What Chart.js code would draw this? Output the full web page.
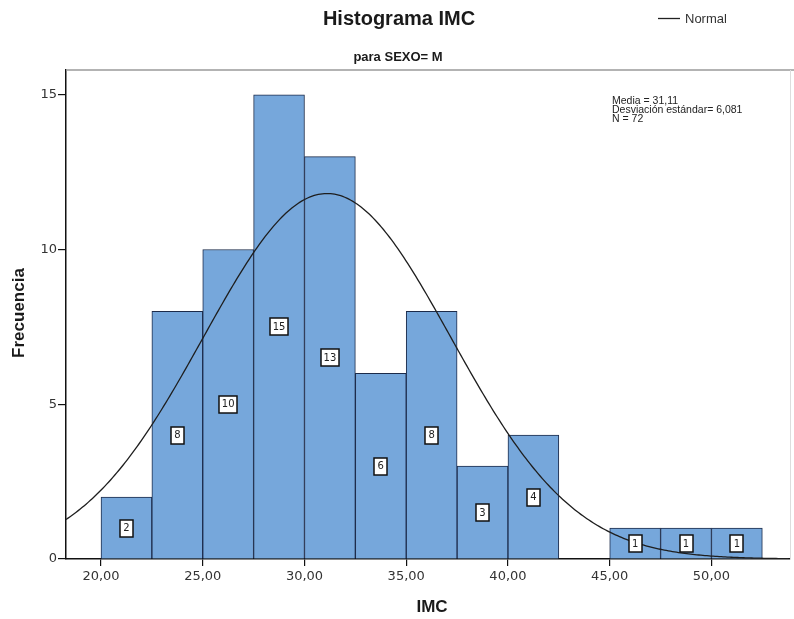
<!DOCTYPE html>
<html>
<head>
<meta charset="utf-8">
<script src="https://cdn.jsdelivr.net/npm/chart.js@4/dist/chart.umd.min.js"></script>
<style>
  html, body { margin: 0; padding: 0; background: #ffffff; }
  #wrap { width: 794px; height: 619px; position: relative; }
</style>
</head>
<body>
<div id="wrap"><canvas id="c" width="794" height="619"></canvas></div>
<script>
// Histogram bins (lower edge of each class, width 2.5) and frequencies
const binStarts = [20, 22.5, 25, 27.5, 30, 32.5, 35, 37.5, 40, 42.5, 45, 47.5, 50];
const counts    = [2, 8, 10, 15, 13, 6, 8, 3, 4, 0, 1, 1, 1];
const binWidth  = 2.5;

// Axis ticks
const xTicks = [20, 25, 30, 35, 40, 45, 50];
const yTicks = [0, 5, 10, 15];

// Summary statistics of IMC for SEXO = M
const mean = 31.11;
const stdDev = 6.081;
const nCases = 72;

const xMin = 18.28, xMax = 53.86;
const yMax = 15.8;

// Bars: one point per non-empty class, centred in its class
const barData = [];
binStarts.forEach((s, i) => {
  if (counts[i] > 0) barData.push({ x: s + binWidth / 2, y: counts[i] });
});

// Fitted normal curve scaled to frequency per class
const curveData = [];
const peak = nCases * binWidth / (stdDev * Math.sqrt(2 * Math.PI));
for (let x = xMin; x <= xMax + 1e-9; x += 0.1) {
  const z = (x - mean) / stdDev;
  curveData.push({ x: x, y: peak * Math.exp(-0.5 * z * z) });
}

const fmt = v => v.toFixed(2).replace('.', ',');

// Titles, legend, statistics box, frame and count labels
const decorations = {
  id: 'decorations',
  beforeDatasetsDraw(chart) {
    const { ctx, chartArea: a } = chart;
    ctx.save();
    ctx.strokeStyle = '#9a9a9a';
    ctx.lineWidth = 1.5;
    ctx.beginPath();
    ctx.moveTo(a.left, a.top);
    ctx.lineTo(794, a.top);
    ctx.stroke();
    ctx.strokeStyle = '#dddddd';
    ctx.lineWidth = 1;
    ctx.beginPath();
    ctx.moveTo(a.right + 0.5, a.top);
    ctx.lineTo(a.right + 0.5, a.bottom);
    ctx.stroke();
    ctx.restore();
  },
  afterDatasetsDraw(chart) {
    const { ctx } = chart;
    const meta = chart.getDatasetMeta(0);
    const ys = chart.scales.y;
    ctx.save();
    ctx.font = '10px "DejaVu Sans"';
    ctx.textAlign = 'center';
    ctx.textBaseline = 'middle';
    meta.data.forEach((el, i) => {
      const v = barData[i].y;
      const txt = String(v);
      const w = txt.length > 1 ? 18 : 13;
      const h = 17;
      const cx = el.x;
      const cy = ys.getPixelForValue(v / 2);
      ctx.fillStyle = '#ffffff';
      ctx.fillRect(Math.round(cx - w / 2), Math.round(cy - h / 2), w, h);
      ctx.strokeStyle = '#111111';
      ctx.lineWidth = 1.5;
      ctx.strokeRect(Math.round(cx - w / 2), Math.round(cy - h / 2), w, h);
      ctx.fillStyle = '#222222';
      ctx.fillText(txt, cx, cy + 0.5);
    });
    ctx.restore();
  },
  afterDraw(chart) {
    const { ctx } = chart;
    ctx.save();
    ctx.fillStyle = '#1a1a1a';
    ctx.textAlign = 'center';
    ctx.textBaseline = 'middle';
    ctx.font = 'bold 20px "Liberation Sans"';
    ctx.fillText('Histograma IMC', 399, 19);
    ctx.font = 'bold 13px "Liberation Sans"';
    ctx.fillText('para SEXO= M', 398, 57);

    // legend
    ctx.strokeStyle = '#222222';
    ctx.lineWidth = 1.3;
    ctx.beginPath();
    ctx.moveTo(658, 18.5);
    ctx.lineTo(680, 18.5);
    ctx.stroke();
    ctx.textAlign = 'left';
    ctx.font = '13px "Liberation Sans"';
    ctx.fillStyle = '#333333';
    ctx.fillText('Normal', 685, 19);

    // statistics
    ctx.font = '10.5px "Liberation Sans"';
    ctx.fillStyle = '#222222';
    ctx.fillText('Media = ' + mean.toFixed(2).replace('.', ','), 612, 101);
    ctx.fillText('Desviación estándar= ' + stdDev.toFixed(3).replace('.', ','), 612, 110);
    ctx.fillText('N = ' + nCases, 612, 119);

    // axis titles
    ctx.fillStyle = '#1a1a1a';
    ctx.textAlign = 'center';
    ctx.font = 'bold 17px "Liberation Sans"';
    ctx.fillText('IMC', 432, 607);
    ctx.translate(19, 313);
    ctx.rotate(-Math.PI / 2);
    ctx.fillText('Frecuencia', 0, 0);
    ctx.restore();
  }
};

new Chart(document.getElementById('c'), {
  type: 'bar',
  data: {
    datasets: [
      {
        type: 'bar',
        label: 'IMC',
        data: barData,
        backgroundColor: '#76a7db',
        borderColor: '#1c2b4a',
        borderWidth: 1,
        barPercentage: 1,
        categoryPercentage: 1,
        order: 2
      },
      {
        type: 'line',
        label: 'Normal',
        data: curveData,
        borderColor: '#1e1e1e',
        borderWidth: 1.3,
        pointRadius: 0,
        tension: 0,
        fill: false,
        order: 1
      }
    ]
  },
  options: {
    responsive: false,
    animation: false,
    events: [],
    layout: { padding: { top: 70, right: 4, left: 0, bottom: 0 } },
    plugins: {
      legend: { display: false },
      title: { display: false },
      tooltip: { enabled: false }
    },
    scales: {
      x: {
        type: 'linear',
        min: xMin,
        max: xMax,
        offset: false,
        afterBuildTicks: s => { s.ticks = xTicks.map(v => ({ value: v })); },
        afterFit: s => { s.height = 60; },
        grid: { offset: false, drawOnChartArea: false, drawTicks: true, tickLength: 7, color: '#111111', lineWidth: 1.2 },
        border: { display: true, color: '#111111', width: 1.5 },
        ticks: {
          autoSkip: false,
          maxRotation: 0,
          padding: 3,
          color: '#333333',
          font: { family: 'DejaVu Sans', size: 13 },
          callback: v => fmt(v)
        }
      },
      y: {
        type: 'linear',
        min: 0,
        max: yMax,
        afterBuildTicks: s => { s.ticks = yTicks.map(v => ({ value: v })); },
        afterFit: s => { s.width = 66; },
        grid: { offset: false, drawOnChartArea: false, drawTicks: true, tickLength: 8, color: '#111111', lineWidth: 1.2 },
        border: { display: true, color: '#111111', width: 1.5 },
        ticks: {
          padding: 1,
          color: '#333333',
          font: { family: 'DejaVu Sans', size: 13 },
          callback: v => String(v)
        }
      }
    }
  },
  plugins: [decorations]
});
</script>
</body>
</html>
